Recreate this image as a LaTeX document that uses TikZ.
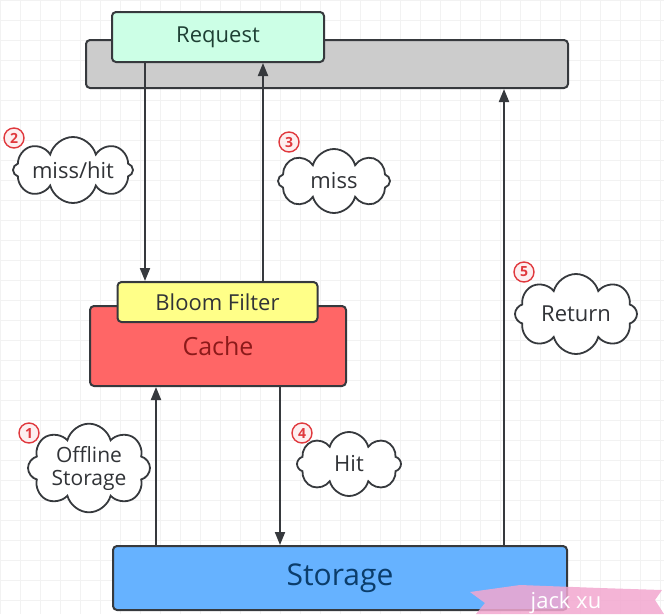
\documentclass[tikz,border=0pt]{standalone}
\usepackage{fontspec}
\setmainfont{Open Sans}
\usetikzlibrary{arrows.meta,positioning,shapes.symbols}
\definecolor{ink}{HTML}{36393D}
\definecolor{reqfill}{HTML}{CCFFE6}
\definecolor{barfill}{HTML}{CCCCCC}
\definecolor{bloomfill}{HTML}{FFFF88}
\definecolor{cachefill}{HTML}{FF6666}
\definecolor{storefill}{HTML}{66B2FF}
\definecolor{cachetext}{HTML}{8C1A1A}
\definecolor{storetext}{HTML}{0B3D6B}
\definecolor{reqtext}{HTML}{1E4034}
\definecolor{stepred}{HTML}{E0393E}
\definecolor{wmpink}{HTML}{F2A7CF}
\tikzset{
  >={Triangle[length=13pt,width=10pt]},
  every node/.style={text=ink!90!black},
  box/.style={draw=ink,line width=2pt,rounded corners=4pt,align=center,inner sep=2pt},
  reqbox/.style={box,fill=reqfill,text=reqtext},
  barbox/.style={box,fill=barfill},
  bloombox/.style={box,fill=bloomfill},
  cachebox/.style={box,fill=cachefill,text=cachetext},
  storebox/.style={box,fill=storefill,text=storetext},
  bubble/.style={cloud,cloud puffs=8,cloud ignores aspect,draw=ink,line width=1.8pt,fill=white,
    align=center,inner sep=0pt,font=\fontsize{22}{23}\selectfont},
  stepnum/.style={circle,draw=stepred,line width=1.4pt,fill=stepred!8,text=stepred,inner sep=0pt,
    minimum size=20pt,font=\fontsize{14}{14}\selectfont\bfseries},
  arrow/.style={->,line width=2pt,draw=ink},
  gridline/.style={draw=black!5,line width=0.6pt},
}
\newcommand{\boxfont}[1]{\fontsize{#1}{#1}\selectfont}

\begin{document}
\begin{tikzpicture}[x=1pt,y=-1pt]
  \useasboundingbox (0,0) rectangle (664,614);
  % background grid
  \foreach \gx in {0,20,...,660} \draw[gridline] (\gx,0) -- (\gx,614);
  \foreach \gy in {0,20,...,600} \draw[gridline] (0,\gy) -- (664,\gy);

  \node[barbox,minimum width=482pt,minimum height=48pt] (bar) at (327,64) {};
  \node[reqbox,minimum width=212pt,minimum height=50pt,font=\boxfont{22}] (request) at (218,37) {Request};

  \node[cachebox,minimum width=256pt,minimum height=80pt,font=\boxfont{25}] (cache) at (218,346) {Cache};
  \node[bloombox,minimum width=200pt,minimum height=40pt,font=\boxfont{22}] (bloom) at (217.5,302) {Bloom Filter};

  \node[storebox,minimum width=454pt,minimum height=64pt,font=\boxfont{30}] (storage) at (340,578) {Storage};

  % flows
  \draw[arrow] ([xshift=-73pt]request.south) -- ([xshift=-73pt]request.south |- bloom.north);
  \draw[arrow] ([xshift=45.5pt]bloom.north) -- ([xshift=45.5pt]bloom.north |- request.south);
  \draw[arrow] ([xshift=-184pt]storage.north) -- ([xshift=-184pt]storage.north |- cache.south);
  \draw[arrow] ([xshift=62pt]cache.south) -- ([xshift=62pt]cache.south |- storage.north);
  \draw[arrow] ([xshift=164pt]storage.north) -- ([xshift=164pt]storage.north |- bar.south);

  % step labels
  \node[bubble,minimum width=120pt,minimum height=66pt] (missHit) at (73,170) {miss/hit};
  \node[bubble,minimum width=112pt,minimum height=64pt] (miss) at (334,181) {miss};
  \node[bubble,minimum width=122pt,minimum height=76pt,font=\fontsize{21}{23}\selectfont] (offline) at (89,468) {Offline\\Storage};
  \node[bubble,minimum width=104pt,minimum height=64pt] (hit) at (349,464) {Hit};
  \node[bubble,minimum width=122pt,minimum height=80pt] (ret) at (576,314) {Return};

  \node[stepnum] (n2) at (14,138) {2};
  \node[stepnum] (n3) at (289,142) {3};
  \node[stepnum] (n1) at (29,433) {1};
  \node[stepnum] (n4) at (302,433) {4};
  \node[stepnum] (n5) at (524,272) {5};

  % watermark
  \fill[wmpink,opacity=0.85] (470,592) -- (520,585) -- (600,588) -- (662,590) -- (655,600) -- (664,614) -- (476,614) -- (485,603) -- cycle;
  \node[text=white,font=\boxfont{22}] (mark) at (566,603) {jack xu};
\end{tikzpicture}
\end{document}
